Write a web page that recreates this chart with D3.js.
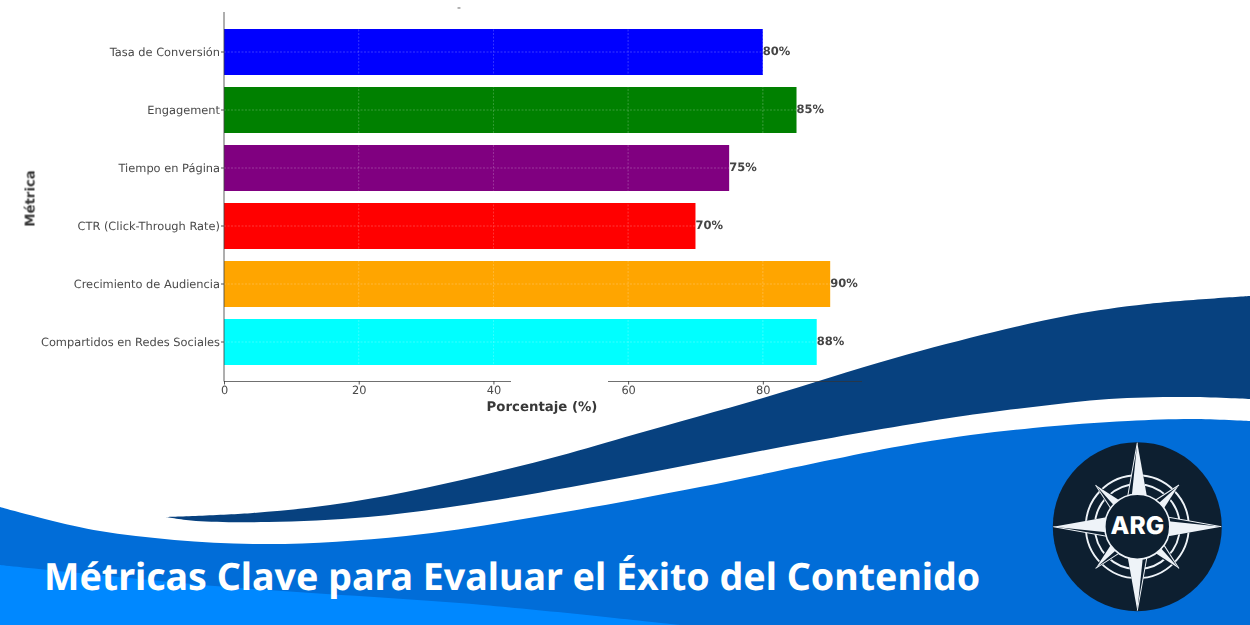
<!DOCTYPE html>
<html>
<head>
<meta charset="utf-8">
<style>
  html, body { margin: 0; padding: 0; background: #fff; overflow: hidden; }
  text { font-family: "DejaVu Sans", sans-serif; text-rendering: geometricPrecision; }
</style>
<script src="https://cdn.jsdelivr.net/npm/d3@7/dist/d3.min.js"></script>
</head>
<body>
<div id="chart"></div>
<script>
// Chart values
var metrics = ["Tasa de Conversión", "Engagement", "Tiempo en Página", "CTR (Click-Through Rate)", "Crecimiento de Audiencia", "Compartidos en Redes Sociales"];
var values = [80, 85, 75, 70, 90, 88];
var barColors = ["#0000ff", "#008000", "#800080", "#ff0000", "#ffa500", "#00ffff"];
var xTicks = [0, 20, 40, 60, 80];
var bannerTitle = "Métricas Clave para Evaluar el Éxito del Contenido";

// Outlines of the banner waves
var navyTop = [[166, 517], [253, 513], [330, 505], [406, 492], [483, 475], [559, 456], [636, 434], [763, 398], [895, 358], [994, 332], [1071, 315], [1147, 304], [1250, 296]];
var navyBottom = [[1250, 399], [1186, 397], [1109, 399], [1033, 407], [956, 417], [803, 443], [636, 475], [483, 502], [368, 517], [268, 522], [196, 521], [166, 517]];
var blueTop = [[0, 507], [100, 531], [253, 544], [406, 536], [559, 513], [700, 487], [918, 443], [1033, 428], [1128, 421], [1193, 419], [1250, 421]];
var lightTop = [[0, 565], [215, 586], [483, 605], [680, 625]];

var width = 1250, height = 625;

var svg = d3.select("#chart")
    .append("svg")
    .attr("width", width)
    .attr("height", height)
    .style("display", "block");

var defs = svg.append("defs");
defs.append("filter").attr("id", "soft")
    .append("feGaussianBlur").attr("stdDeviation", 0.45);

var curve = d3.line().curve(d3.curveCatmullRom.alpha(0.5));

// Banner background
svg.append("path")
    .attr("d", curve(navyTop) + "L" + curve(navyBottom).slice(1) + "Z")
    .attr("fill", "#07417f");

svg.append("path")
    .attr("d", curve(blueTop) + "L1250,625L0,625Z")
    .attr("fill", "#016dd8");

svg.append("path")
    .attr("d", curve(lightTop) + "L0,625Z")
    .attr("fill", "#0088ff");

// Scales
var xScale = d3.scaleLinear().domain([0, 94.5]).range([224, 860.5]);
var yScale = d3.scaleBand()
    .domain(metrics)
    .range([23, 371])
    .paddingInner(0.207)
    .paddingOuter(0.1035);

var chart = svg.append("g").attr("filter", "url(#soft)");

// Bars
chart.selectAll("rect.bar")
    .data(metrics)
    .enter()
    .append("rect")
    .attr("class", "bar")
    .attr("x", xScale(0))
    .attr("y", function(d) { return yScale(d); })
    .attr("width", function(d, i) { return xScale(values[i]) - xScale(0); })
    .attr("height", yScale.bandwidth())
    .attr("fill", function(d, i) { return barColors[i]; });

// Dashed grid, only shows on top of the bars
chart.selectAll("line.vgrid")
    .data(xTicks.slice(1))
    .enter()
    .append("line")
    .attr("class", "vgrid")
    .attr("x1", function(d) { return xScale(d); })
    .attr("x2", function(d) { return xScale(d); })
    .attr("y1", 12)
    .attr("y2", 381)
    .attr("stroke", "#ffffff")
    .attr("stroke-opacity", 0.22)
    .attr("stroke-dasharray", "2,1.5");

chart.selectAll("line.hgrid")
    .data(metrics)
    .enter()
    .append("line")
    .attr("class", "hgrid")
    .attr("x1", xScale(0))
    .attr("x2", function(d, i) { return xScale(values[i]); })
    .attr("y1", function(d) { return yScale(d) + yScale.bandwidth() / 2; })
    .attr("y2", function(d) { return yScale(d) + yScale.bandwidth() / 2; })
    .attr("stroke", "#ffffff")
    .attr("stroke-opacity", 0.22)
    .attr("stroke-dasharray", "2,1.5");

// Value labels
chart.selectAll("text.value")
    .data(metrics)
    .enter()
    .append("text")
    .attr("class", "value")
    .attr("x", function(d, i) { return xScale(values[i]); })
    .attr("y", function(d) { return yScale(d) + yScale.bandwidth() / 2 - 1; })
    .attr("dy", "0.35em")
    .attr("font-size", "11.5px")
    .attr("font-weight", "bold")
    .attr("fill", "#444")
    .text(function(d, i) { return values[i] + "%"; });

// Axes
var xAxis = chart.append("g")
    .attr("transform", "translate(0, 381)")
    .call(d3.axisBottom(xScale).tickValues(xTicks).tickSize(3.5).tickPadding(1));

var yAxis = chart.append("g")
    .attr("transform", "translate(224, 0)")
    .call(d3.axisLeft(yScale).tickSize(3).tickPadding(1));

xAxis.select(".domain").remove();
yAxis.select(".domain").remove();

chart.selectAll(".tick line").attr("stroke", "#555");
chart.selectAll(".tick text")
    .style("font-family", "'DejaVu Sans', sans-serif")
    .style("font-size", "11.4px")
    .attr("fill", "#4a4a4a");

// Axis lines; the bottom one has a gap in the source image
chart.append("line")
    .attr("x1", 224).attr("x2", 224)
    .attr("y1", 12).attr("y2", 381.5)
    .attr("stroke", "#444").attr("stroke-opacity", 0.85);

[[224, 511], [608, 862]].forEach(function(seg) {
    chart.append("line")
        .attr("x1", seg[0]).attr("x2", seg[1])
        .attr("y1", 381.5).attr("y2", 381.5)
        .attr("stroke", "#333").attr("stroke-opacity", 0.7);
});

// Axis titles
chart.append("text")
    .attr("x", 542)
    .attr("y", 410.5)
    .attr("text-anchor", "middle")
    .attr("font-size", "13.3px")
    .attr("font-weight", "bold")
    .attr("fill", "#383838")
    .text("Porcentaje (%)");

chart.append("text")
    .attr("transform", "translate(34.5, 198.5) rotate(-90)")
    .attr("text-anchor", "middle")
    .attr("font-size", "13.3px")
    .attr("font-weight", "bold")
    .attr("fill", "#383838")
    .text("Métrica");

// Leftover of the cropped chart title
chart.append("text")
    .attr("x", 459)
    .attr("y", 11)
    .attr("text-anchor", "middle")
    .attr("font-size", "11px")
    .attr("fill", "#555")
    .text("-");

// Banner title
svg.append("text")
    .attr("x", 44)
    .attr("y", 590)
    .attr("fill", "#ffffff")
    .attr("font-size", "37.6px")
    .attr("font-weight", "bold")
    .style("font-family", "'Noto Sans', sans-serif")
    .text(bannerTitle);

// Compass logo
var logo = svg.append("g").attr("transform", "translate(1137.3, 526.7)");
var logoDark = "#0d1f30", logoLight = "#eef3f8";

logo.append("circle").attr("r", 84.5).attr("fill", logoDark);

[51.5, 42.5].forEach(function(r) {
    logo.append("circle")
        .attr("r", r)
        .attr("fill", "none")
        .attr("stroke", logoLight)
        .attr("stroke-width", 1.9);
});

// Short diagonal points, then long ones
[45, 135, 225, 315].forEach(function(a) {
    var g = logo.append("g").attr("transform", "rotate(" + a + ")");
    g.append("path").attr("d", "M0,-60L7.5,-31L-7.5,-31Z").attr("fill", logoDark);
    g.append("path").attr("d", "M0,-59L6,-31L-1.5,-31Z").attr("fill", logoLight);
    g.append("path").attr("d", "M0,-59L-6,-31").attr("fill", "none")
        .attr("stroke", logoLight).attr("stroke-width", 1);
});

[0, 90, 180, 270].forEach(function(a) {
    var g = logo.append("g").attr("transform", "rotate(" + a + ")");
    g.append("path").attr("d", "M0,-84L9.5,-31L-9.5,-31Z").attr("fill", logoDark);
    g.append("path").attr("d", "M0,-84L9.5,-31L-5.5,-31Z").attr("fill", logoLight);
    g.append("path").attr("d", "M0,-84L-9.5,-31").attr("fill", "none")
        .attr("stroke", logoLight).attr("stroke-width", 1);
});

logo.append("circle")
    .attr("r", 32.5)
    .attr("fill", logoDark)
    .attr("stroke", logoLight)
    .attr("stroke-width", 1.6);

logo.append("text")
    .attr("text-anchor", "middle")
    .attr("y", 7.5)
    .attr("fill", "#ffffff")
    .attr("font-size", "24.5px")
    .attr("font-weight", 800)
    .style("font-family", "Inter, sans-serif")
    .text("ARG");
</script>
</body>
</html>
